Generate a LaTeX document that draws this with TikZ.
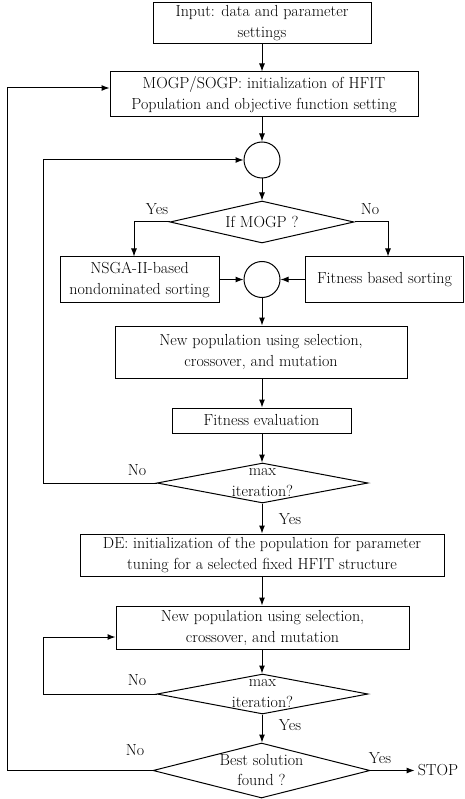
\documentclass[tikz,border=0pt]{standalone}
\usepackage{fontspec}
\usetikzlibrary{shapes.geometric,arrows.meta}
\begin{document}
\begin{tikzpicture}[x=1pt,y=-1pt,
  font=\fontsize{16}{21}\selectfont,
  box/.style={draw,line width=1pt,rectangle,align=center,inner sep=0pt},
  joint/.style={draw,line width=1pt,circle,minimum size=36pt,inner sep=0pt},
  dia/.style={draw,line width=1pt,diamond,inner sep=0pt},
  arr/.style={line width=1pt,-{Latex[length=8pt,width=6pt]}},
  lbl/.style={inner sep=0pt}]
\useasboundingbox (0,0) rectangle (464,799);

\node[box,minimum width=218pt,minimum height=41pt] (in) at (262,23.5) {Input: data and parameter\\settings};
\node[box,minimum width=308pt,minimum height=45pt] (init) at (264,94.5) {MOGP/SOGP: initialization of HFIT\\Population and objective function setting};
\node[joint] (c1) at (262,160) {};
\node[dia,minimum width=184pt,minimum height=42pt,label={center:If MOGP ?}] (d0) at (262,222) {};
\node[box,minimum width=159pt,minimum height=45pt] (nsga) at (139.5,279.5) {NSGA-II-based\\nondominated sorting};
\node[box,minimum width=158pt,minimum height=45pt] (fit) at (384.5,279.5) {Fitness based sorting};
\node[joint] (c2) at (262,279.5) {};
\node[box,minimum width=292pt,minimum height=52pt] (np1) at (261,352) {New population using selection,\\crossover, and mutation};
\node[box,minimum width=179pt,minimum height=25pt] (fe) at (261.5,420.5) {Fitness evaluation};
\node[dia,minimum width=211pt,minimum height=40pt,label={[align=center,font=\fontsize{16}{21}\selectfont]center:max\\iteration?}] (d1) at (262.5,483) {};
\node[box,minimum width=364pt,minimum height=42pt] (de) at (262,555) {DE: initialization of the population for parameter\\tuning for a selected fixed HFIT structure};
\node[box,minimum width=293pt,minimum height=43pt] (np2) at (262.5,627.5) {New population using selection,\\crossover, and mutation};
\node[dia,minimum width=211pt,minimum height=40pt,label={[align=center,font=\fontsize{16}{21}\selectfont]center:max\\iteration?}] (d2) at (262.5,694) {};
\node[dia,minimum width=217pt,minimum height=55pt,label={[align=center,font=\fontsize{16}{20}\selectfont]center:Best solution\\found ?}] (d3) at (261.5,770.5) {};
\node[inner sep=3pt] (stop) at (438,770.5) {STOP};

\coordinate (l1) at (43,0);
\coordinate (l0) at (7,0);

\draw[arr] (in.south) -- (in.south |- init.north);
\draw[arr] (init.south -| c1) -- (c1.north);
\draw[arr] (c1.south) -- (d0.north);
\draw[arr] (d0.west) -| ([xshift=-5.5pt]nsga.north);
\draw[arr] (d0.east) -| ([xshift=3.5pt]fit.north);
\draw[arr] (nsga.east |- c2) -- (c2.west);
\draw[arr] (fit.west |- c2) -- (c2.east);
\draw[arr] (c2.south) -- (c2.south |- np1.north);
\draw[arr] (np1.south -| c2) -- (c2 |- fe.north);
\draw[arr] (fe.south -| c2) -- (c2 |- d1.north);
\draw[arr] (d1.west) -- (d1.west -| l1) |- (c1.west);
\draw[arr] (d1.south -| c2) -- (c2 |- de.north);
\draw[arr] (de.south -| c2) -- (c2 |- np2.north);
\draw[arr] (np2.south -| c2) -- (c2 |- d2.north);
\draw[arr] (d2.west) -- (d2.west -| l1) |- ([yshift=-9.5pt]np2.west);
\draw[arr] (d2.south -| c2) -- (c2 |- d3.north);
\draw[arr] (d3.east) -- (stop.west);
\draw[arr] (d3.west) -- (d3.west -| l0) |- ([yshift=6.5pt]init.west);

\node[lbl] at (157,209) {Yes};
\node[lbl] at (370,209) {No};
\node[lbl] at (137,470) {No};
\node[lbl] at (290,519) {Yes};
\node[lbl] at (137,680) {No};
\node[lbl] at (290,725) {Yes};
\node[lbl] at (135,750) {No};
\node[lbl] at (380,758) {Yes};
\end{tikzpicture}
\end{document}
